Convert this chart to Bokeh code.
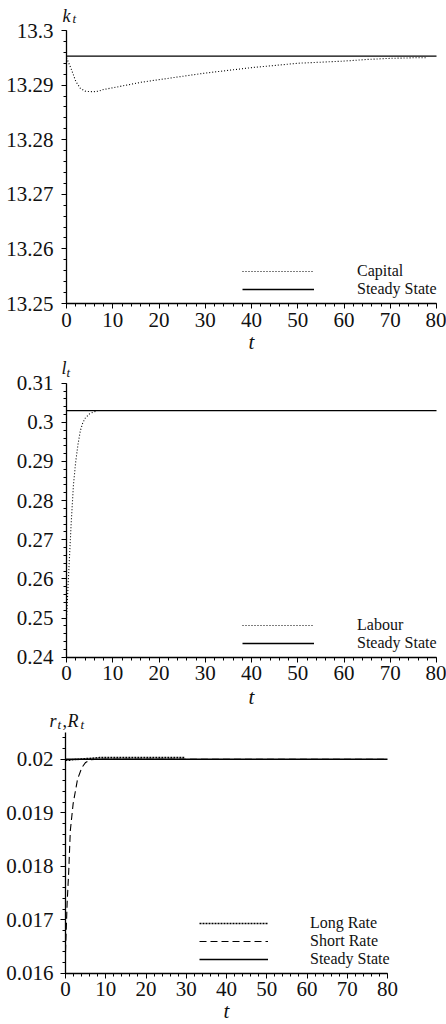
import numpy as np
from bokeh.plotting import figure
from bokeh.layouts import column
from bokeh.models import FixedTicker, Label, Legend, LegendItem, Range1d
from bokeh.embed import file_html
from bokeh.resources import INLINE

FONT = "Liberation Serif"

# ---------------- data ----------------
t_start, t_end = 0, 80
x_ticks = [0, 10, 20, 30, 40, 50, 60, 70, 80]
x_tick_labels = ["0", "10", "20", "30", "40", "50", "60", "70", "80"]

# Panel 1: capital
capital_t = [0, 1, 2, 3, 4, 5, 6, 7, 8, 10, 13, 16, 20, 25, 30, 35, 40, 45, 50, 55, 60, 65, 70, 75, 78]
capital = [13.2950, 13.2930, 13.2907, 13.2894, 13.2889, 13.2888, 13.2888, 13.2889, 13.2892,
           13.2895, 13.2900, 13.2905, 13.2910, 13.2916, 13.2922, 13.2927, 13.2932, 13.2936,
           13.2940, 13.2942, 13.2944, 13.2947, 13.2949, 13.2950, 13.2950]
k_steady = 13.2953
k_range = (13.25, 13.3)
k_ticks = [13.25, 13.26, 13.27, 13.28, 13.29, 13.3]
k_tick_labels = ["13.25", "13.26", "13.27", "13.28", "13.29", "13.3"]

# Panel 2: labour
labour_t = [0, 0.25, 0.5, 1, 1.5, 2, 2.5, 3, 3.5, 4, 5, 6, 6.5]
labour = [0.2500, 0.2560, 0.2620, 0.2740, 0.2840, 0.2900, 0.2945, 0.2979, 0.2998, 0.3010,
          0.3022, 0.3027, 0.3029]
l_steady = 0.3030
l_range = (0.24, 0.31)
l_ticks = [0.24, 0.25, 0.26, 0.27, 0.28, 0.29, 0.3, 0.31]
l_tick_labels = ["0.24", "0.25", "0.26", "0.27", "0.28", "0.29", "0.3", "0.31"]

# Panel 3: interest rates
long_t = [0, 0.5, 1, 1.5, 8.5, 10, 15, 20, 25, 29.5]
long_rate = [0.01998, 0.01998, 0.01998, 0.01999, 0.02003, 0.02003, 0.02003, 0.02003, 0.02003, 0.02003]
short_t = [0, 0.4, 0.8, 1.2, 1.9, 3.0, 4.1, 5.0, 6.2, 8, 20, 40, 60, 80]
short_rate = [0.01640, 0.01730, 0.01790, 0.01867, 0.01917, 0.01963, 0.01985, 0.01994, 0.01999,
              0.02000, 0.02000, 0.02000, 0.02000, 0.02000]
r_steady = 0.02
r_range = (0.016, 0.0205)
r_ticks = [0.016, 0.017, 0.018, 0.019, 0.02]
r_tick_labels = ["0.016", "0.017", "0.018", "0.019", "0.02"]

W = 446


def make_fig(height, px_x0, px_x1, px_y_top, px_y_bot, yr, yticks, ylabels, yminor_step, ystand):
    """Frame fills the whole figure; axes are pinned to the data origin."""
    xs = (t_end - t_start) / (px_x1 - px_x0)           # data per pixel (x)
    ys = (yr[1] - yr[0]) / (px_y_bot - px_y_top)        # data per pixel (y)
    x_range = Range1d(t_start - px_x0 * xs, t_end + (W - px_x1) * xs)
    y_range = Range1d(yr[0] - (height - px_y_bot) * ys, yr[1] + px_y_top * ys)
    p = figure(width=W, height=height, x_range=x_range, y_range=y_range,
               output_backend="svg", toolbar_location=None, min_border=0,
               background_fill_color="white", border_fill_color="white")
    p.outline_line_color = None
    p.grid.visible = False
    xminor = [float(v) for v in np.arange(t_start, t_end + 0.001, 2)]
    p.xaxis.ticker = FixedTicker(ticks=x_ticks, minor_ticks=xminor)
    p.xaxis.major_label_overrides = {k: v for k, v in zip(x_ticks, x_tick_labels)}
    n = int(round((yr[1] - yr[0]) / yminor_step))
    yminor = [float(round(yr[0] + i * yminor_step, 6)) for i in range(n + 1)]
    p.yaxis.ticker = FixedTicker(ticks=yticks, minor_ticks=yminor)
    p.yaxis.major_label_overrides = {k: v for k, v in zip(yticks, ylabels)}
    p.xaxis.fixed_location = yr[0]
    p.yaxis.fixed_location = t_start
    p.xaxis.bounds = (t_start, t_end)
    p.yaxis.bounds = yr
    for ax in (p.xaxis, p.yaxis):
        ax.axis_line_color = "black"
        ax.axis_line_width = 1.3
        ax.major_tick_line_color = "black"
        ax.minor_tick_line_color = "black"
        ax.major_tick_in = 0
        ax.major_tick_out = 5
        ax.minor_tick_in = 0
        ax.minor_tick_out = 3
        ax.major_label_text_font = FONT
        ax.major_label_text_font_size = "21px"
        ax.major_label_text_color = "#111111"
    p.xaxis.major_label_standoff = 4
    p.yaxis.major_label_standoff = ystand
    return p


def add_legend(p, items, x, y, glyph_w, standoff):
    leg = Legend(items=[LegendItem(label=lab, renderers=[r]) for lab, r in items],
                 location=(x, y), border_line_color=None, background_fill_alpha=0,
                 padding=0, margin=0, spacing=0, glyph_width=glyph_w, glyph_height=16,
                 label_height=16, label_standoff=standoff, label_text_font=FONT,
                 label_text_font_size="16px", label_text_color="#111111")
    p.add_layout(leg)


def add_text(p, text, x, y, xo, yo, size, italic=True, align="left", baseline="alphabetic"):
    p.add_layout(Label(x=x, y=y, x_offset=xo, y_offset=yo, text=text,
                       text_font=FONT, text_font_size=size,
                       text_font_style="italic" if italic else "normal",
                       text_align=align, text_baseline=baseline, text_color="#111111"))


x_mid = (t_start + t_end) / 2

# ---------------- panel 1 ----------------
p1 = make_fig(354, 66, 436, 30, 303, k_range, k_ticks, k_tick_labels, 0.002, 8)
r_cap = p1.line(capital_t, capital, line_color="black", line_width=1.1, line_dash="1 2")
r_ss1 = p1.line([t_start, t_end], [k_steady, k_steady], line_color="black", line_width=1.4)
add_legend(p1, [("Capital", r_cap), ("Steady State", r_ss1)], 242, 56, 72, 43)
add_text(p1, "k", t_start, k_range[1], -4, 15, "18px")
add_text(p1, "t", t_start, k_range[1], 6, 12, "13px")
add_text(p1, "t", x_mid, k_range[0], 0, -38, "21px", align="center", baseline="middle")

# ---------------- panel 2 ----------------
p2 = make_fig(354, 66, 436, 28.7, 302.7, l_range, l_ticks, l_tick_labels, 0.002, 8)
r_lab = p2.line(labour_t, labour, line_color="black", line_width=1.1, line_dash="1 2")
r_ss2 = p2.line([t_start, t_end], [l_steady, l_steady], line_color="black", line_width=1.4)
add_legend(p2, [("Labour", r_lab), ("Steady State", r_ss2)], 242, 56, 72, 43)
add_text(p2, "l", t_start, l_range[1], -5, 15, "18px")
add_text(p2, "t", t_start, l_range[1], 0, 11, "13px")
add_text(p2, "t", x_mid, l_range[0], 0, -40, "21px", align="center", baseline="middle")

# ---------------- panel 3 ----------------
p3 = make_fig(316, 65, 387, 24, 264.7, r_range, r_ticks, r_tick_labels, 0.0002, 7)
r_long = p3.line(long_t, long_rate, line_color="black", line_width=1.6, line_dash="2 1")
r_short = p3.line(short_t, short_rate, line_color="black", line_width=1.1, line_dash="7 4")
r_ss3 = p3.line([t_start, t_end], [r_steady, r_steady], line_color="black", line_width=1.4)
add_legend(p3, [("Long Rate", r_long), ("Short Rate", r_short), ("Steady State", r_ss3)],
           199, 56, 69, 42)
add_text(p3, "r", t_start, r_range[1], -16, 12, "18px")
add_text(p3, "t", t_start, r_range[1], -8, 8, "13px")
add_text(p3, ",", t_start, r_range[1], -3, 12, "18px", italic=False)
add_text(p3, "R", t_start, r_range[1], 2, 12, "18px")
add_text(p3, "t", t_start, r_range[1], 15, 8, "13px")
add_text(p3, "t", x_mid, r_range[0], 0, -38, "21px", align="center", baseline="middle")

layout = column(p1, p2, p3, spacing=0)
open("out.html", "w").write(file_html(layout, INLINE))
